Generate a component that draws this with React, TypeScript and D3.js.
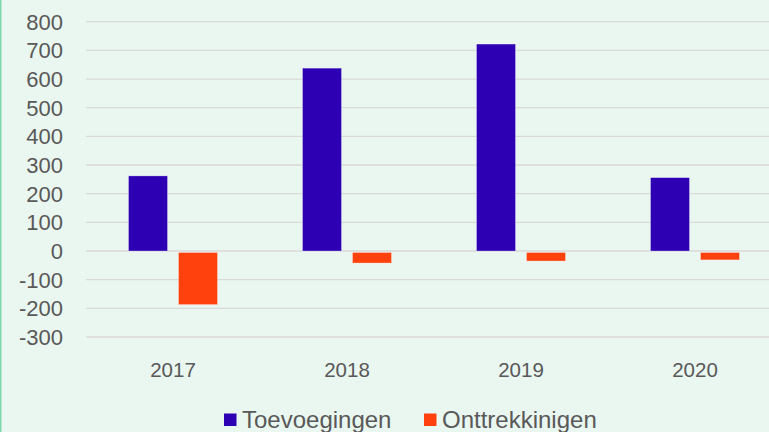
import { useEffect, useRef } from 'react';
import * as d3 from 'd3';

const years = ['2017', '2018', '2019', '2020'];
const toevoegingen = [262, 638, 722, 256];
const onttrekkingen = [-187, -42, -35, -31];
const seriesNames = ['Toevoegingen', 'Onttrekkinigen'];
const yTicks = [800, 700, 600, 500, 400, 300, 200, 100, 0, -100, -200, -300];

const colors = ['#2E00B3', '#FF410D'];
const width = 769;
const height = 432;
const marginLeft = 86;
const plotRight = 782;
const fontFamily = '"Liberation Sans", Arial, sans-serif';

function App() {
  const svgRef = useRef<SVGSVGElement>(null);

  useEffect(() => {
    const svg = d3.select(svgRef.current);
    svg.selectAll('*').remove();

    svg
      .append('rect')
      .attr('width', width)
      .attr('height', height)
      .attr('fill', '#EAF6F0');
    svg
      .append('line')
      .attr('x1', 0.75)
      .attr('x2', 0.75)
      .attr('y1', 0)
      .attr('y2', height)
      .attr('stroke', '#7FD6AE')
      .attr('stroke-width', 1.5);

    const y = d3.scaleLinear().domain([-300, 800]).range([337, 21.7]);
    const x = d3.scaleBand().domain(years).range([marginLeft, plotRight]);

    // gridlines
    svg
      .append('g')
      .selectAll('line')
      .data(yTicks)
      .enter()
      .append('line')
      .attr('x1', marginLeft)
      .attr('x2', width)
      .attr('y1', (d) => y(d))
      .attr('y2', (d) => y(d))
      .attr('stroke', '#D9D9D9')
      .attr('stroke-width', 1.3);

    // y labels
    svg
      .append('g')
      .selectAll('text')
      .data(yTicks)
      .enter()
      .append('text')
      .attr('x', 63)
      .attr('y', (d) => y(d))
      .attr('dy', '0.36em')
      .attr('text-anchor', 'end')
      .attr('font-family', fontFamily)
      .attr('font-size', 22)
      .attr('fill', '#595959')
      .text((d) => d);

    // x labels
    svg
      .append('g')
      .selectAll('text')
      .data(years)
      .enter()
      .append('text')
      .attr('x', (d) => x(d)! + x.bandwidth() / 2)
      .attr('y', 376.5)
      .attr('text-anchor', 'middle')
      .attr('font-family', fontFamily)
      .attr('font-size', 20.5)
      .attr('fill', '#595959')
      .text((d) => d);

    const barW = 39;
    const gap = 11;
    const series = [toevoegingen, onttrekkingen];
    series.forEach((vals, si) => {
      svg
        .append('g')
        .selectAll('rect')
        .data(vals)
        .enter()
        .append('rect')
        .attr('x', (d, i) => {
          const c = x(years[i])! + x.bandwidth() / 2;
          return si === 0 ? c - gap / 2 - barW : c + gap / 2;
        })
        .attr('y', (d) => (d >= 0 ? y(d) : y(0) + 1.5))
        .attr('width', barW)
        .attr('height', (d) => (d >= 0 ? y(0) - y(d) : y(d) - y(0) - 1.5))
        .attr('fill', colors[si])
        .attr('stroke', 'rgba(255,255,255,0.5)')
        .attr('stroke-width', 0.6);
    });

    // legend
    const legendX = [224, 424];
    seriesNames.forEach((name, i) => {
      const lg = svg.append('g').attr('transform', `translate(${legendX[i]}, 0)`);
      lg.append('rect')
        .attr('x', 0)
        .attr('y', 413.5)
        .attr('width', 12.5)
        .attr('height', 12.5)
        .attr('fill', colors[i]);
      lg.append('text')
        .attr('x', 18)
        .attr('y', 428)
        .attr('font-family', fontFamily)
        .attr('font-size', 24)
        .attr('fill', '#595959')
        .text(name);
    });
  }, []);

  return (
    <div style={{ position: 'absolute', top: 0, left: 0 }}>
      <svg width={width} height={height} ref={svgRef} style={{ display: 'block' }} />
    </div>
  );
}

export default App;
